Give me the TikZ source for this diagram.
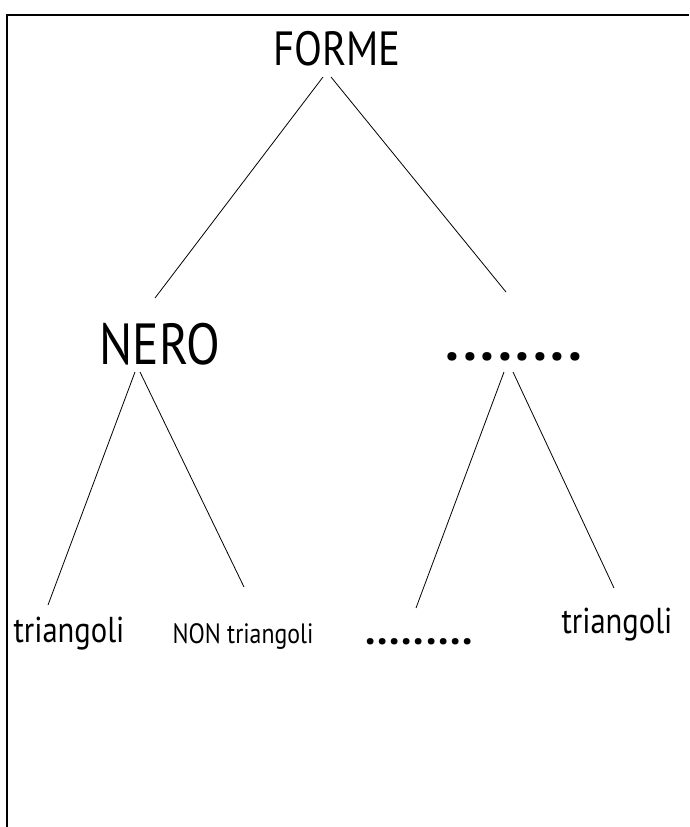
\documentclass[tikz,border=0pt]{standalone}
\usepackage{fontspec}
\setmainfont{PT Sans}[FakeStretch=0.85]
\newfontfamily\dotfontA{PT Sans Bold}[LetterSpace=5.4]
\newfontfamily\dotfontB{PT Sans Bold}[LetterSpace=3.1]
\begin{document}
\begin{tikzpicture}[x=1pt,y=-1pt,
  lbl/.style={inner sep=0pt,anchor=base},
  edge/.style={draw=black,line width=0.8pt}]
\useasboundingbox (0,0) rectangle (689,827);
\draw[line width=1.2pt] (7,827) -- (7,15) -- (689,15);
\node[lbl,font=\fontsize{48}{48}\selectfont] (forme) at (337,65) {FORME};
\node[lbl,font=\fontsize{58}{58}\selectfont] (nero) at (160,364) {NERO};
\node[lbl,font=\dotfontA\fontsize{56}{56}\selectfont] (dots1) at (514,360) {........};
\node[lbl,font=\fontsize{36}{36}\selectfont] (tri1) at (69,642) {triangoli};
\node[lbl,font=\fontsize{28}{28}\selectfont] (non) at (243,643) {NON triangoli};
\node[lbl,font=\dotfontB\fontsize{42}{42}\selectfont] (dots2) at (419,644) {.........};
\node[lbl,font=\fontsize{36}{36}\selectfont] (tri2) at (617,633) {triangoli};
\coordinate (a1) at (323,77); \coordinate (a2) at (155,298);
\coordinate (b1) at (331,77); \coordinate (b2) at (506,292);
\coordinate (c1) at (135,372); \coordinate (c2) at (48,605);
\coordinate (d1) at (140,372); \coordinate (d2) at (244,587);
\coordinate (e1) at (504,372); \coordinate (e2) at (416,608);
\coordinate (f1) at (513,372); \coordinate (f2) at (614,588);
\draw[edge] (a1) -- (a2);
\draw[edge] (b1) -- (b2);
\draw[edge] (c1) -- (c2);
\draw[edge] (d1) -- (d2);
\draw[edge] (e1) -- (e2);
\draw[edge] (f1) -- (f2);
\end{tikzpicture}
\end{document}
